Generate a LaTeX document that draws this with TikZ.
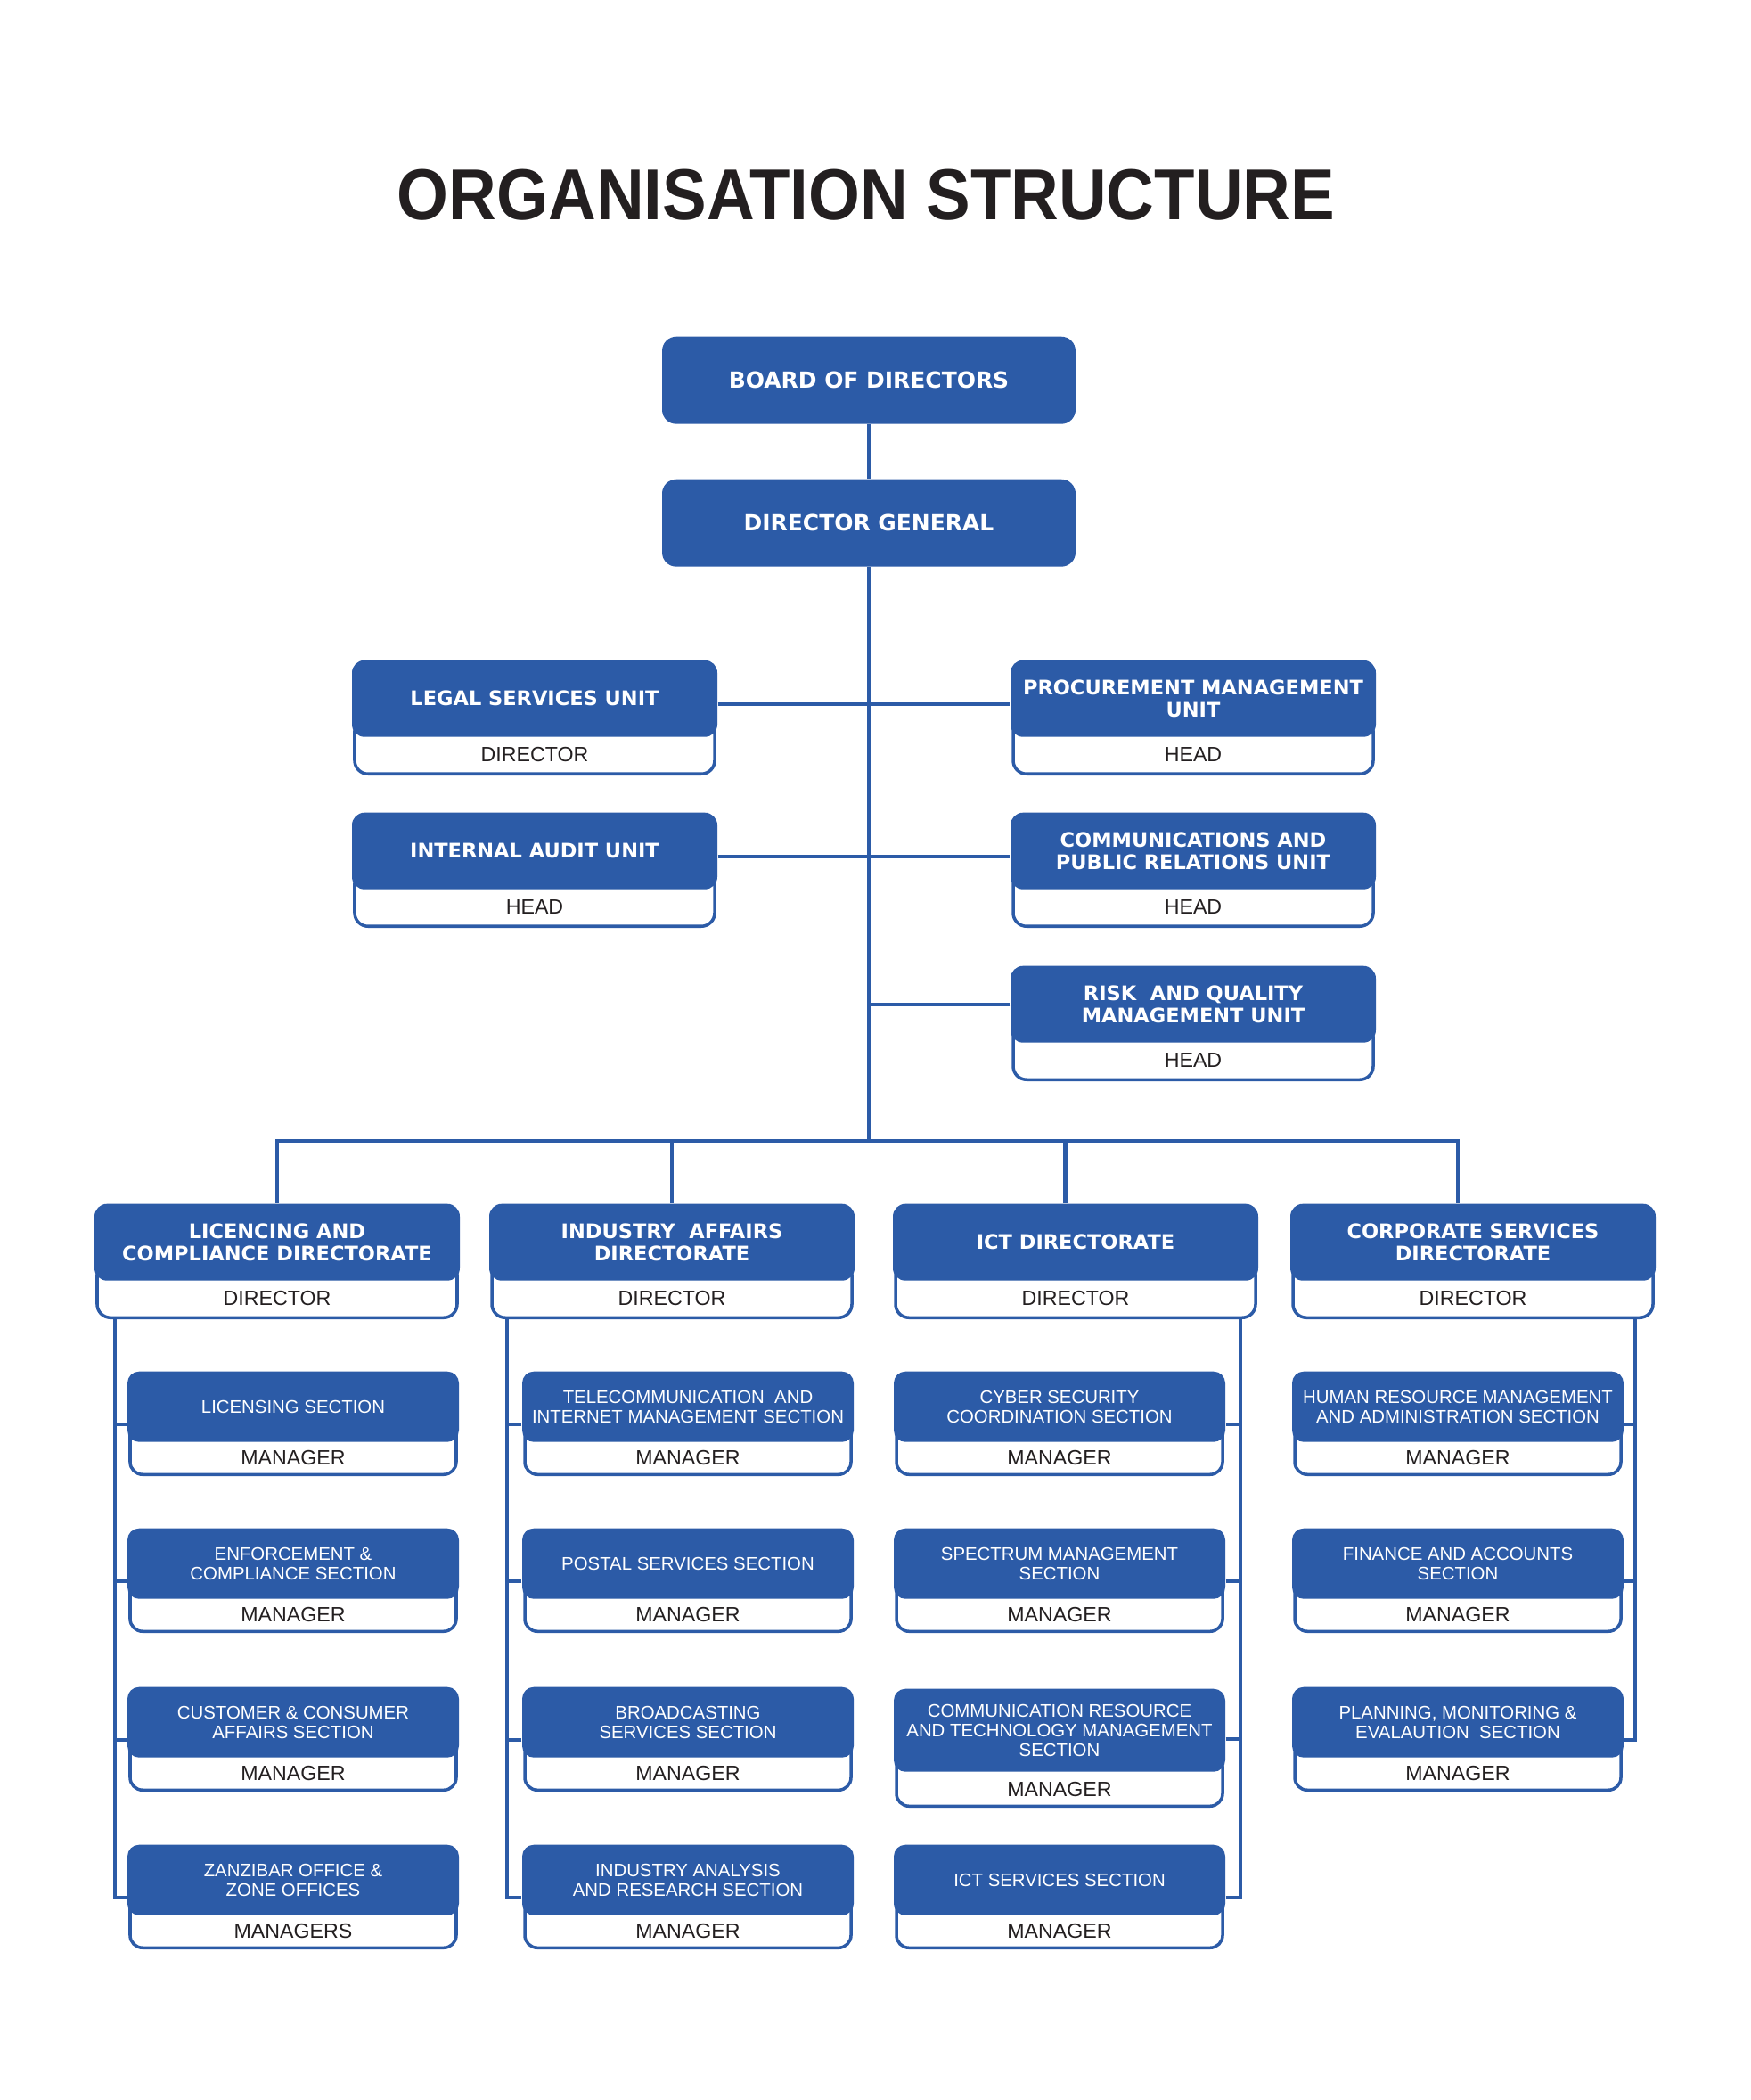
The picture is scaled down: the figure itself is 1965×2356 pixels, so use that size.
\documentclass[tikz,border=0pt]{standalone}
\usepackage{fontspec}
\usepackage{graphicx}
\usepackage{tikz}
\setmainfont{Liberation Sans}
\newfontfamily\headfont{DejaVu Sans}
\definecolor{orgblue}{RGB}{44,91,167}
\definecolor{inkblack}{RGB}{35,31,32}

\begin{document}
\begin{tikzpicture}[x=0.1mm, y=-0.1mm,
        title_style/.style={text=inkblack, inner sep=0pt, font=\bfseries\fontsize{23}{27}\selectfont},
        top_style/.style={fill=orgblue, rounded corners=1.6mm, minimum width=46.4mm, minimum height=9.8mm, anchor=north, text=white, font=\headfont\bfseries\fontsize{7.1}{8.5}\selectfont},
        head_style/.style={fill=orgblue, rounded corners=1.4mm, minimum width=41mm, minimum height=8.6mm, anchor=north, align=center, inner sep=1pt, text=white, font=\headfont\bfseries\fontsize{6.4}{7.3}\selectfont},
        head_role_style/.style={draw=orgblue, line width=1pt, fill=white, rounded corners=1.5mm, minimum width=40.4mm, text height=5mm, text depth=1.35mm, inner ysep=0pt, anchor=south, text=inkblack, font=\fontsize{6.6}{7}\selectfont},
        sec_style/.style={fill=orgblue, rounded corners=1.3mm, minimum width=37.2mm, minimum height=7.9mm, anchor=north, align=center, inner sep=1pt, text=white, font=\fontsize{5.8}{6.2}\selectfont},
        sec_role_style/.style={draw=orgblue, line width=1pt, fill=white, rounded corners=1.4mm, minimum width=36.6mm, text height=4.75mm, text depth=1.1mm, inner ysep=0pt, anchor=south, text=inkblack, font=\fontsize{6.6}{7}\selectfont},
        edge_style/.style={draw=orgblue, line width=1.15pt}]

        \useasboundingbox (0,0) rectangle (1965,2356);

        \node [title_style] (title) at (972,219) {\scalebox{0.92}[1]{ORGANISATION STRUCTURE}};

        \node [top_style] (board) at (975,377) {BOARD OF DIRECTORS};
        \node [top_style] (dg) at (975,537) {DIRECTOR GENERAL};

        % units
        \node [head_role_style] (legal_r) at (600,870) {DIRECTOR};
        \node [head_style] (legal) at (600,740) {LEGAL SERVICES UNIT};

        \node [head_role_style] (audit_r) at (600,1041) {HEAD};
        \node [head_style] (audit) at (600,911) {INTERNAL AUDIT UNIT};

        \node [head_role_style] (procure_r) at (1339,870) {HEAD};
        \node [head_style] (procure) at (1339,740) {PROCUREMENT MANAGEMENT\\UNIT};

        \node [head_role_style] (comms_r) at (1339,1041) {HEAD};
        \node [head_style] (comms) at (1339,911) {COMMUNICATIONS AND\\PUBLIC RELATIONS UNIT};

        \node [head_role_style] (risk_r) at (1339,1213) {HEAD};
        \node [head_style] (risk) at (1339,1083) {RISK\ \ AND QUALITY\\MANAGEMENT UNIT};

        % directorates
        \node [head_role_style] (licencing_r) at (311,1480) {DIRECTOR};
        \node [head_style] (licencing) at (311,1350) {LICENCING AND\\COMPLIANCE DIRECTORATE};

        \node [head_role_style] (industry_r) at (754,1480) {DIRECTOR};
        \node [head_style] (industry) at (754,1350) {INDUSTRY\ \ AFFAIRS\\DIRECTORATE};

        \node [head_role_style] (ict_r) at (1207,1480) {DIRECTOR};
        \node [head_style] (ict) at (1207,1350) {ICT DIRECTORATE};

        \node [head_role_style] (corporate_r) at (1653,1480) {DIRECTOR};
        \node [head_style] (corporate) at (1653,1350) {CORPORATE SERVICES\\DIRECTORATE};

        % licencing sections
        \node [sec_role_style] (licensing_r) at (329,1656) {MANAGER};
        \node [sec_style] (licensing) at (329,1538) {LICENSING SECTION};

        \node [sec_role_style] (enforcement_r) at (329,1832) {MANAGER};
        \node [sec_style] (enforcement) at (329,1714) {ENFORCEMENT \&\\COMPLIANCE SECTION};

        \node [sec_role_style] (customer_r) at (329,2010) {MANAGER};
        \node [sec_style] (customer) at (329,1892) {CUSTOMER \& CONSUMER\\AFFAIRS SECTION};

        \node [sec_role_style] (zanzibar_r) at (329,2187) {MANAGERS};
        \node [sec_style] (zanzibar) at (329,2069) {ZANZIBAR OFFICE \&\\ZONE OFFICES};

        % industry sections
        \node [sec_role_style] (telecom_r) at (772,1656) {MANAGER};
        \node [sec_style] (telecom) at (772,1538) {TELECOMMUNICATION\ \ AND\\INTERNET MANAGEMENT SECTION};

        \node [sec_role_style] (postal_r) at (772,1832) {MANAGER};
        \node [sec_style] (postal) at (772,1714) {POSTAL SERVICES SECTION};

        \node [sec_role_style] (broadcast_r) at (772,2010) {MANAGER};
        \node [sec_style] (broadcast) at (772,1892) {BROADCASTING\\SERVICES SECTION};

        \node [sec_role_style] (analysis_r) at (772,2187) {MANAGER};
        \node [sec_style] (analysis) at (772,2069) {INDUSTRY ANALYSIS\\AND RESEARCH SECTION};

        % ict sections
        \node [sec_role_style] (cyber_r) at (1189,1656) {MANAGER};
        \node [sec_style] (cyber) at (1189,1538) {CYBER SECURITY\\COORDINATION SECTION};

        \node [sec_role_style] (spectrum_r) at (1189,1832) {MANAGER};
        \node [sec_style] (spectrum) at (1189,1714) {SPECTRUM MANAGEMENT\\SECTION};

        \node [sec_role_style] (resource_r) at (1189,2028) {MANAGER};
        \node [sec_style, minimum height=9.3mm] (resource) at (1189,1894) {COMMUNICATION RESOURCE\\AND TECHNOLOGY MANAGEMENT\\SECTION};

        \node [sec_role_style] (ictsvc_r) at (1189,2187) {MANAGER};
        \node [sec_style] (ictsvc) at (1189,2069) {ICT SERVICES SECTION};

        % corporate sections
        \node [sec_role_style] (hr_r) at (1636,1656) {MANAGER};
        \node [sec_style] (hr) at (1636,1538) {HUMAN RESOURCE MANAGEMENT\\AND ADMINISTRATION SECTION};

        \node [sec_role_style] (finance_r) at (1636,1832) {MANAGER};
        \node [sec_style] (finance) at (1636,1714) {FINANCE AND ACCOUNTS\\SECTION};

        \node [sec_role_style] (planning_r) at (1636,2010) {MANAGER};
        \node [sec_style] (planning) at (1636,1892) {PLANNING, MONITORING \&\\EVALAUTION\ \ SECTION};

        % connectors
        \coordinate (bus) at (975,1280);
        \draw [edge_style] (board) -- (dg);
        \draw [edge_style] (dg) -- (bus);
        \draw [edge_style] ([yshift=-0.6mm]legal.east) -- ([yshift=-0.6mm]procure.west);
        \draw [edge_style] ([yshift=-0.6mm]audit.east) -- ([yshift=-0.6mm]comms.west);
        \draw [edge_style] (risk.west) -- (risk.west -| dg.south);

        \draw [edge_style] (licencing.north) |- (bus) -| ([xshift=-1.7mm]corporate.north);
        \draw [edge_style] (industry.north) -- (industry.north |- bus);
        \coordinate (ict_drop) at ([xshift=-1.15mm]ict.north);
        \draw [edge_style] (ict_drop) -- (ict_drop |- bus);

        \coordinate (lic_line) at (129,1480);
        \coordinate (ind_line) at (569,1480);
        \coordinate (ict_line) at (1392,1480);
        \coordinate (corp_line) at (1835,1480);

        \foreach \s in {licensing,enforcement,customer,zanzibar}
            \draw [edge_style] ([yshift=-2mm]\s.west) -| (lic_line);
        \foreach \s in {telecom,postal,broadcast,analysis}
            \draw [edge_style] ([yshift=-2mm]\s.west) -| (ind_line);
        \foreach \s/\d in {cyber/-2mm,spectrum/-2mm,resource/-1mm,ictsvc/-2mm}
            \draw [edge_style] ([yshift=\d]\s.east) -| (ict_line);
        \foreach \s in {hr,finance,planning}
            \draw [edge_style] ([yshift=-2mm]\s.east) -| (corp_line);

\end{tikzpicture}
\end{document}
